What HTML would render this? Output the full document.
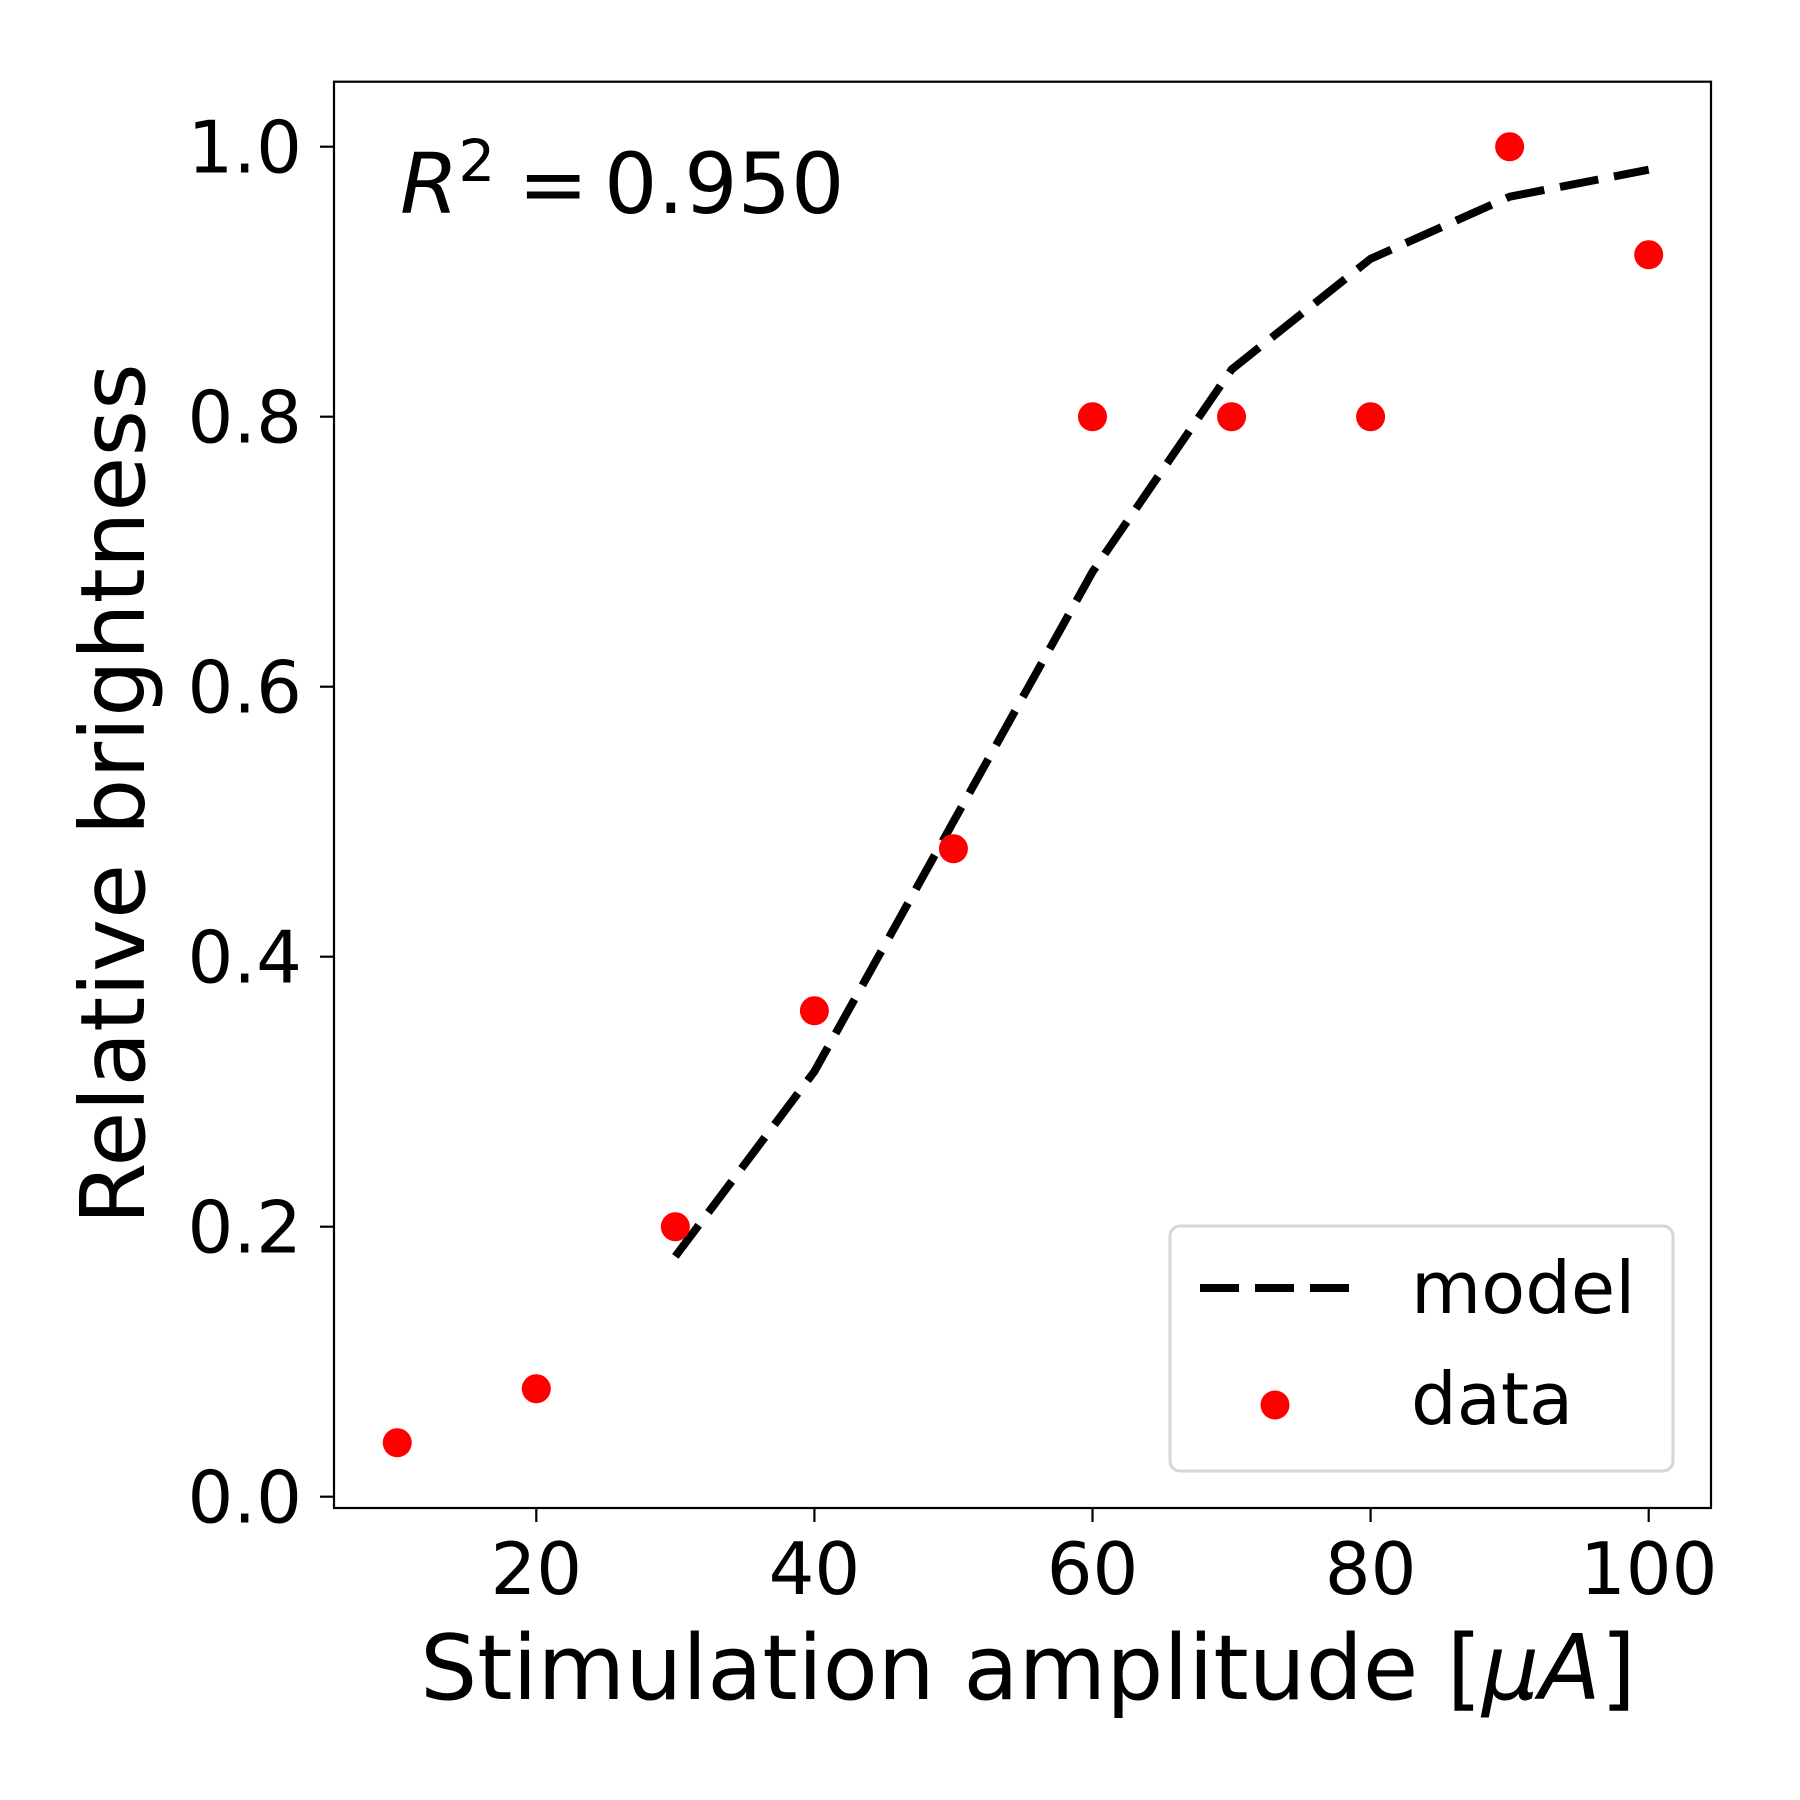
<!DOCTYPE html>
<html><head><meta charset="utf-8"><style>
html,body{margin:0;padding:0;background:#fff}
svg{display:block}
text{font-family:"DejaVu Sans","Liberation Sans",sans-serif;fill:#000}
</style></head><body>
<svg id="chart" width="1800" height="1800" viewBox="0 0 1800 1800" xmlns="http://www.w3.org/2000/svg">
<rect width="1800" height="1800" fill="#fff"/>
<g id="plot"></g>
</svg>
<script>
const dataX = [10,20,30,40,50,60,70,80,90,100];
const dataY = [0.04,0.08,0.2,0.36,0.48,0.8,0.8,0.8,1.0,0.92];
const modelX = [30,40,50,60,70,80,90,100];
const modelY = [0.178,0.315,0.5,0.685,0.835,0.917,0.963,0.983];
const xTicks = [20,40,60,80,100];
const yTicks = [0.0,0.2,0.4,0.6,0.8,1.0];
const yTickLabels = ["0.0","0.2","0.4","0.6","0.8","1.0"];

const NS="http://www.w3.org/2000/svg";
const L=334,R=1711,T=81.7,B=1508;
function sx(v){return 536.3+(v-20)*278.1/20;}
function sy(v){return 1496.7-v*1350;}
const g=document.getElementById('plot');
function mk(tag,attrs,parent){const e=document.createElementNS(NS,tag);for(const k in attrs)e.setAttribute(k,attrs[k]);(parent||g).appendChild(e);return e;}

let d=modelX.map((x,i)=>(i?'L':'M')+sx(x).toFixed(1)+','+sy(modelY[i]).toFixed(1)).join(' ');
const line=mk('path',{d:d,fill:'none',stroke:'#000','stroke-width':8,'stroke-dasharray':'39 16'});



dataX.forEach((x,i)=>{
  const c=mk('circle',{cx:sx(x),cy:sy(dataY[i]),r:14.5,fill:'#ff0000'});
  
  
});

const fr=mk('rect',{x:L,y:T,width:R-L,height:B-T,fill:'none',stroke:'#000','stroke-width':2.2});



xTicks.forEach(v=>{
  const t=mk('line',{x1:sx(v),x2:sx(v),y1:B,y2:B+14,stroke:'#000','stroke-width':2.2});
  
  
  const lb=mk('text',{x:sx(v),y:1594,'text-anchor':'middle','font-size':72});
  lb.textContent=String(v);
  
  
});
yTicks.forEach((v,i)=>{
  const t=mk('line',{x1:L-14,x2:L,y1:sy(v),y2:sy(v),stroke:'#000','stroke-width':2.2});
  
  
  const lb=mk('text',{x:302,y:sy(v)+26,'text-anchor':'end','font-size':72});
  lb.textContent=yTickLabels[i];
  
  
});
</script>
<svg style="position:absolute;left:0;top:0" width="1800" height="1800" xmlns="http://www.w3.org/2000/svg">
<text x="1028" y="1699" text-anchor="middle" font-size="90">Stimulation amplitude [<tspan font-style="italic">μA</tspan>]</text>
<text transform="translate(144,794) rotate(-90)" text-anchor="middle" font-size="89.5">Relative brightness</text>
<text font-size="84"><tspan x="400" y="213" font-style="italic">R</tspan><tspan font-size="58" dy="-32">2</tspan><tspan x="518" y="213">=</tspan><tspan x="604" y="213">0.950</tspan></text>
<g>
<rect x="1170" y="1226" width="503" height="245" rx="10" fill="#fff" fill-opacity="0.8" stroke="#d6d6d6" stroke-width="3"/>
<line x1="1200" y1="1288" x2="1352" y2="1288" stroke="#000" stroke-width="8" stroke-dasharray="39 16"/>
<text x="1411" y="1313" font-size="72">model</text>
<circle cx="1275" cy="1405" r="14.5" fill="#ff0000"/>
<text x="1411" y="1424" font-size="72">data</text>
</g>
</svg>
</body></html>
